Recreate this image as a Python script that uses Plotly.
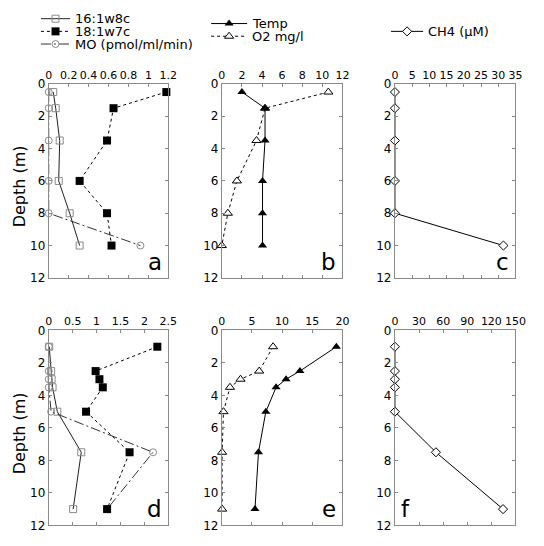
import plotly.graph_objects as go

# ---------------- data ----------------
depth_top = [0.5, 1.5, 3.5, 6, 8, 10]
fa16_a = [0.045, 0.07, 0.11, 0.10, 0.21, 0.31]
fa18_a = [1.18, 0.65, 0.585, 0.31, 0.585, 0.63]
mo_a = [0, 0, 0, 0, 0, 0.92]
temp_b = [2.0, 4.3, 4.3, 4.05, 4.05, 4.05]
o2_b = [10.6, 4.3, 3.45, 1.5, 0.6, 0.0]
ch4_c = [0, 0, 0, 0, 0, 31.5]

depth_bot = [1, 2.5, 3, 3.5, 5, 7.5, 11]
fa16_d = [0.01, 0.05, 0.06, 0.08, 0.18, 0.68, 0.51]
fa18_d = [2.27, 0.98, 1.06, 1.13, 0.78, 1.69, 1.22]
mo_d = [0, 0, 0, 0, 0.05, 2.18, 1.22]
temp_e = [19.0, 12.95, 10.65, 9.0, 7.3, 6.08, 5.5]
o2_e = [8.5, 6.2, 3.1, 1.35, 0.27, 0.05, 0.05]
ch4_f = [0, 0, 0, 0, 0, 51, 134.5]

panel_letters = ["a", "b", "c", "d", "e", "f"]
x_ranges = [[0, 1.2], [0, 12], [0, 35], [0, 2.5], [0, 20], [0, 150]]
x_dticks = [0.2, 2, 5, 0.5, 5, 30]
depth_ticks = [0, 2, 4, 6, 8, 10, 12]

# series labels
lab16 = "16:1w8c"
lab18 = "18:1w7c"
labmo = "MO (pmol/ml/min)"
labtemp = "Temp"
labo2 = "O2 mg/l"
labch4 = "CH4 (\u00b5M)"

# ---------------- styles ----------------
W, H = 544, 546
FONT = "DejaVu Sans"
GRAY = "#8a8a8a"
BLACK = "#000000"
MO_DASH = "10px,3px,2px,3px"

styles = {
    lab16: dict(line=dict(color="#222", width=1, dash="solid"),
                marker=dict(symbol="square-open", size=7, color=GRAY, line=dict(width=1, color=GRAY))),
    lab18: dict(line=dict(color=BLACK, width=1, dash="dot"),
                marker=dict(symbol="square", size=8, color=BLACK)),
    labmo: dict(line=dict(color="#333", width=1, dash=MO_DASH),
                marker=dict(symbol="circle-open", size=7, color=GRAY, line=dict(width=1, color=GRAY))),
    labtemp: dict(line=dict(color=BLACK, width=1, dash="solid"),
                  marker=dict(symbol="triangle-up", size=8, color=BLACK)),
    labo2: dict(line=dict(color=BLACK, width=1, dash="dot"),
                marker=dict(symbol="triangle-up", size=8, color="white", line=dict(width=1, color=BLACK))),
    labch4: dict(line=dict(color=BLACK, width=1, dash="solid"),
                 marker=dict(symbol="diamond", size=7, color="white", line=dict(width=1, color=BLACK))),
}

# panel geometry (pixels)
cols = [(46, 169), (224, 348), (402, 526)]
rows = [(79, 278), (332, 532)]

fig = go.Figure()


def add_series(k, xs, ys, label):
    sfx = "" if k == 1 else str(k)
    st = styles[label]
    fig.add_trace(go.Scatter(x=xs, y=ys, mode="lines+markers", name=label,
                             line=st["line"], marker=st["marker"],
                             xaxis="x" + sfx, yaxis="y" + sfx,
                             cliponaxis=False, showlegend=False))


# top row
add_series(1, fa16_a, depth_top, lab16)
add_series(1, mo_a, depth_top, labmo)
add_series(1, fa18_a, depth_top, lab18)
add_series(2, o2_b, depth_top, labo2)
add_series(2, temp_b, depth_top, labtemp)
add_series(3, ch4_c, depth_top, labch4)
# bottom row
add_series(4, fa16_d, depth_bot, lab16)
add_series(4, mo_d, depth_bot, labmo)
add_series(4, fa18_d, depth_bot, lab18)
add_series(5, o2_e, depth_bot, labo2)
add_series(5, temp_e, depth_bot, labtemp)
add_series(6, ch4_f, depth_bot, labch4)

layout = dict(width=W, height=H, margin=dict(l=0, r=0, t=0, b=0, pad=0),
              paper_bgcolor="white", plot_bgcolor="rgba(0,0,0,0)",
              font=dict(family=FONT, size=11, color=BLACK), showlegend=False)

annotations = []
for i in range(6):
    k = i + 1
    sfx = "" if k == 1 else str(k)
    c0, c1 = cols[i % 3]
    r0, r1 = rows[i // 3]
    layout["xaxis" + sfx] = dict(
        domain=[c0 / W, c1 / W], range=x_ranges[i], dtick=x_dticks[i], tick0=0,
        side="top", anchor="y" + sfx, showline=True, linecolor=GRAY, linewidth=1,
        mirror="ticks", ticks="inside", ticklen=3, tickcolor=GRAY, tickangle=0,
        showgrid=False, zeroline=False, tickfont=dict(size=11), fixedrange=True)
    layout["yaxis" + sfx] = dict(
        domain=[1 - r1 / H, 1 - r0 / H], range=[12, 0], tickvals=depth_ticks,
        anchor="x" + sfx, showline=True, linecolor=GRAY, linewidth=1,
        mirror="ticks", ticks="inside", ticklen=3, tickcolor=GRAY,
        showgrid=False, zeroline=False, tickfont=dict(size=12), fixedrange=True)
    letter_left = (i == 5)
    annotations.append(dict(
        text=panel_letters[i], xref="x%s domain" % sfx, yref="y%s domain" % sfx,
        x=0 if letter_left else 1, y=0, xanchor="left" if letter_left else "right",
        yanchor="bottom", xshift=4 if letter_left else -4, yshift=1,
        showarrow=False, font=dict(size=23, family=FONT)))

# y-axis titles
for r0, r1 in rows:
    annotations.append(dict(text="Depth (m)", xref="paper", yref="paper",
                            x=16 / W, y=1 - ((r0 + r1) / 2 + 6) / H, textangle=-90,
                            xanchor="center", yanchor="middle",
                            showarrow=False, font=dict(size=16, family=FONT)))

# ---------------- legend blocks (hidden pixel overlay) ----------------
layout["xaxis7"] = dict(domain=[0, 1], range=[0, W], visible=False, fixedrange=True, anchor="y7")
layout["yaxis7"] = dict(domain=[0, 1], range=[H, 0], visible=False, fixedrange=True, anchor="x7")

legend_blocks = [
    (38, 68, [(lab16, 12), (lab18, 25), (labmo, 38)]),
    (213, 250, [(labtemp, 17), (labo2, 30)]),
    (398, 431, [(labch4, 25)]),
]
for x0, x1, items in legend_blocks:
    for label, yy in items:
        st = styles[label]
        fig.add_trace(go.Scatter(x=[x0, x1], y=[yy, yy], mode="lines", line=st["line"],
                                 xaxis="x7", yaxis="y7", showlegend=False, hoverinfo="skip"))
        fig.add_trace(go.Scatter(x=[(x0 + x1) / 2], y=[yy], mode="markers", marker=st["marker"],
                                 xaxis="x7", yaxis="y7", showlegend=False, hoverinfo="skip",
                                 cliponaxis=False))
        annotations.append(dict(text=label, xref="x7", yref="y7", x=x1 + 4, y=yy,
                                xanchor="left", yanchor="middle", showarrow=False,
                                borderpad=0, font=dict(size=13, family=FONT)))

layout["annotations"] = annotations
fig.update_layout(**layout)
fig.write_html("out.html", config={"displayModeBar": False, "staticPlot": True},
               post_script="document.body.style.margin='0';document.body.style.overflow='hidden';")
